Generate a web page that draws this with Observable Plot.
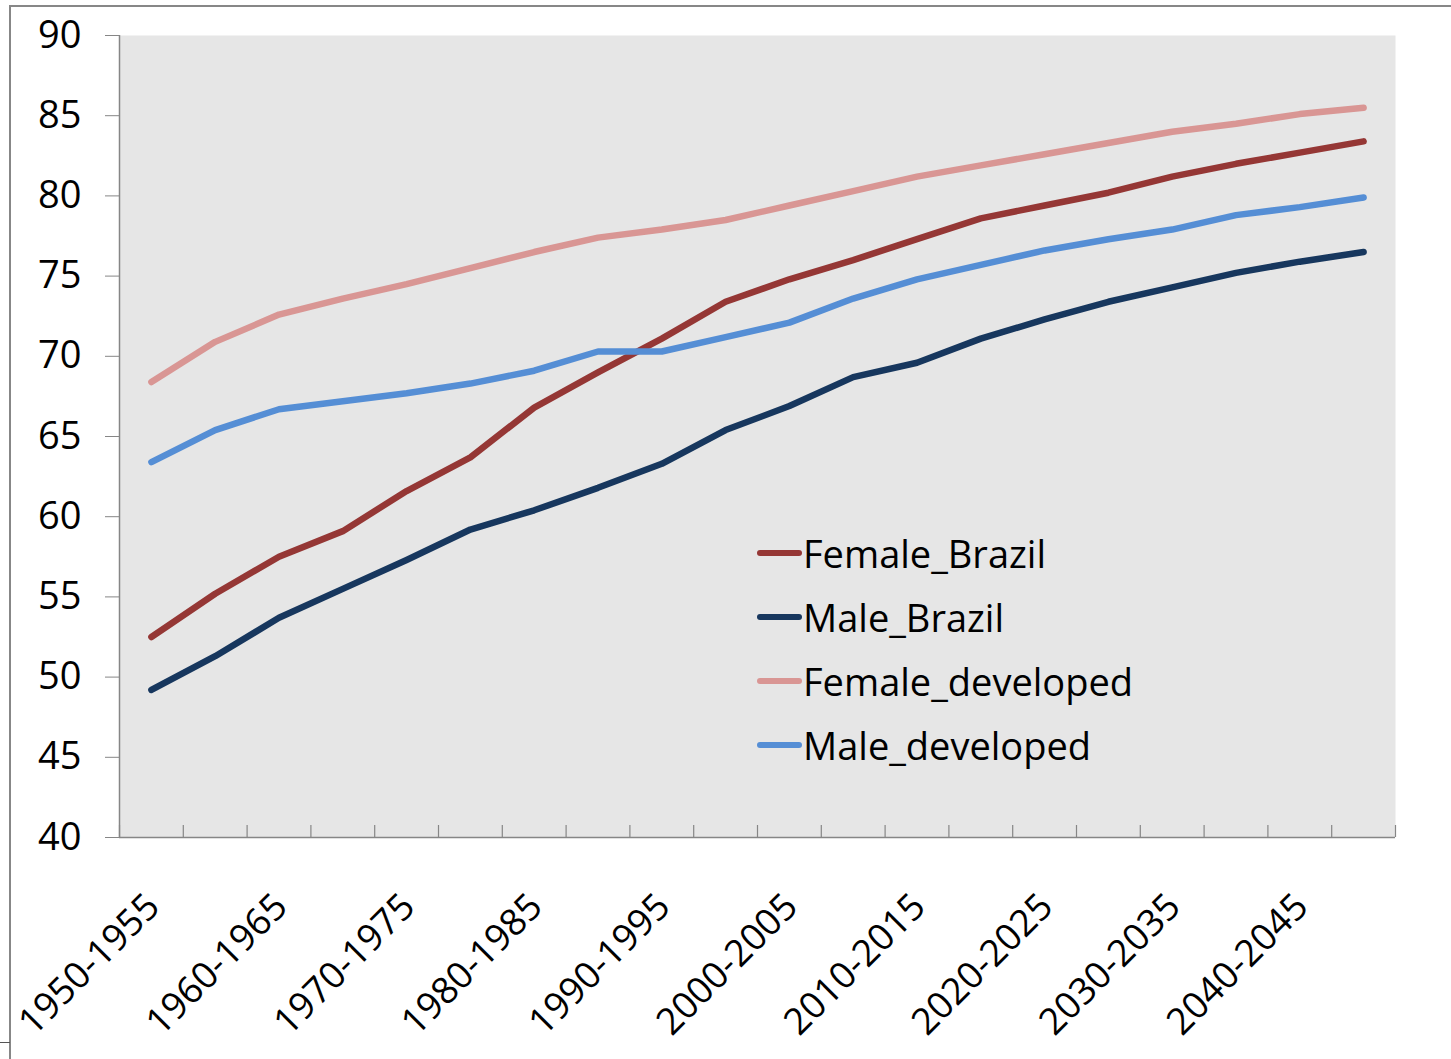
<!DOCTYPE html>
<html>
<head>
<meta charset="utf-8">
<script src="https://cdn.jsdelivr.net/npm/d3@7"></script>
<script src="https://cdn.jsdelivr.net/npm/@observablehq/plot@0.6"></script>
<style>
  html, body { margin: 0; padding: 0; background: #fff; overflow: hidden; }
  #wrap { position: relative; width: 1451px; height: 1059px; font-family: "Open Sans", sans-serif; }
  #border { position: absolute; left: 9px; top: 5px; width: 1442px; height: 1054px;
            border-top: 2px solid #878787; border-left: 2px solid #878787; box-sizing: border-box; pointer-events: none; }
  #corner { position: absolute; left: 0; top: 1042px; width: 10px; height: 1px; background: #555; }
  #legend { position: absolute; left: 757px; top: 521px; }
  .item { display: flex; align-items: center; height: 64px; font-size: 38px; color: #000; }
  .swatch { width: 45px; height: 6.5px; border-radius: 3px; margin-right: 1px; }
</style>
</head>
<body>
<div id="wrap">
  <div id="chart"></div>
  <div id="legend"></div>
  <div id="border"></div>
  <div id="corner"></div>
</div>
<script>
// Five-year periods, 1950-1955 through 2045-2050
const periods = [
  "1950-1955", "1955-1960", "1960-1965", "1965-1970", "1970-1975",
  "1975-1980", "1980-1985", "1985-1990", "1990-1995", "1995-2000",
  "2000-2005", "2005-2010", "2010-2015", "2015-2020", "2020-2025",
  "2025-2030", "2030-2035", "2035-2040", "2040-2045", "2045-2050"
];

// Life expectancy at birth (years)
const femaleBrazil    = [52.5, 55.2, 57.5, 59.1, 61.6, 63.7, 66.8, 69.0, 71.1, 73.4, 74.8, 76.0, 77.3, 78.6, 79.4, 80.2, 81.2, 82.0, 82.7, 83.4];
const maleBrazil      = [49.2, 51.3, 53.7, 55.5, 57.3, 59.2, 60.4, 61.8, 63.3, 65.4, 66.9, 68.7, 69.6, 71.1, 72.3, 73.4, 74.3, 75.2, 75.9, 76.5];
const femaleDeveloped = [68.4, 70.9, 72.6, 73.6, 74.5, 75.5, 76.5, 77.4, 77.9, 78.5, 79.4, 80.3, 81.2, 81.9, 82.6, 83.3, 84.0, 84.5, 85.1, 85.5];
const maleDeveloped   = [63.4, 65.4, 66.7, 67.2, 67.7, 68.3, 69.1, 70.3, 70.3, 71.2, 72.1, 73.6, 74.8, 75.7, 76.6, 77.3, 77.9, 78.8, 79.3, 79.9];

const seriesNames  = ["Female_Brazil", "Male_Brazil", "Female_developed", "Male_developed"];
const seriesColors = ["#953735", "#17375e", "#d99694", "#558ed5"];
const yTicks = [40, 45, 50, 55, 60, 65, 70, 75, 80, 85, 90];

const seriesValues = [femaleBrazil, maleBrazil, femaleDeveloped, maleDeveloped];
const rows = seriesNames.flatMap((name, s) =>
  seriesValues[s].map((v, i) => ({series: name, i, value: v}))
);

// Category boundaries (for tick marks) and labelled categories (every other one)
const boundaries = d3.range(periods.length + 1).map(k => k - 0.5);
const labelled = d3.range(0, periods.length, 2);

const W = 1451, H = 1059;
const mL = 119, mR = 56, mT = 35, mB = 222;
const axisGray = "#868686";

const chart = Plot.plot({
  width: W,
  height: H,
  marginLeft: mL,
  marginRight: mR,
  marginTop: mT,
  marginBottom: mB,
  style: {background: "transparent", fontFamily: "'Open Sans', sans-serif", color: "#000"},
  x: {type: "linear", domain: [-0.5, periods.length - 0.5], axis: null},
  y: {domain: [40, 90], label: null},
  color: {domain: seriesNames, range: seriesColors},
  marks: [
    Plot.frame({fill: "#e6e6e6", stroke: "none"}),
    Plot.ruleY([40], {stroke: axisGray, strokeWidth: 1.5}),
    Plot.ruleX([-0.5], {stroke: axisGray, strokeWidth: 1.5}),
    Plot.tickX(boundaries, {x: d => d, stroke: axisGray, strokeWidth: 1.2, insetTop: H - mT - mB - 12}),
    Plot.axisY({ticks: yTicks, tickSize: 14, tickPadding: 24, fontSize: 38, stroke: axisGray, fill: "#000", label: null}),
    Plot.text(labelled, {
      x: d => d,
      text: d => periods[d],
      frameAnchor: "bottom",
      rotate: -45,
      textAnchor: "end",
      lineAnchor: "middle",
      dx: 2,
      dy: 63,
      fontSize: 37,
      fill: "#000"
    }),
    Plot.line(rows, {
      x: "i",
      y: "value",
      z: "series",
      stroke: "series",
      strokeWidth: 6.5,
      strokeLinecap: "round",
      strokeLinejoin: "round"
    })
  ]
});
document.getElementById("chart").append(chart);

// Legend: line swatches with series names
const legend = d3.select("#legend");
seriesNames.forEach((name, s) => {
  const item = legend.append("div").attr("class", "item");
  item.append("div").attr("class", "swatch").style("background", seriesColors[s]);
  item.append("span").text(name);
});
</script>
</body>
</html>
